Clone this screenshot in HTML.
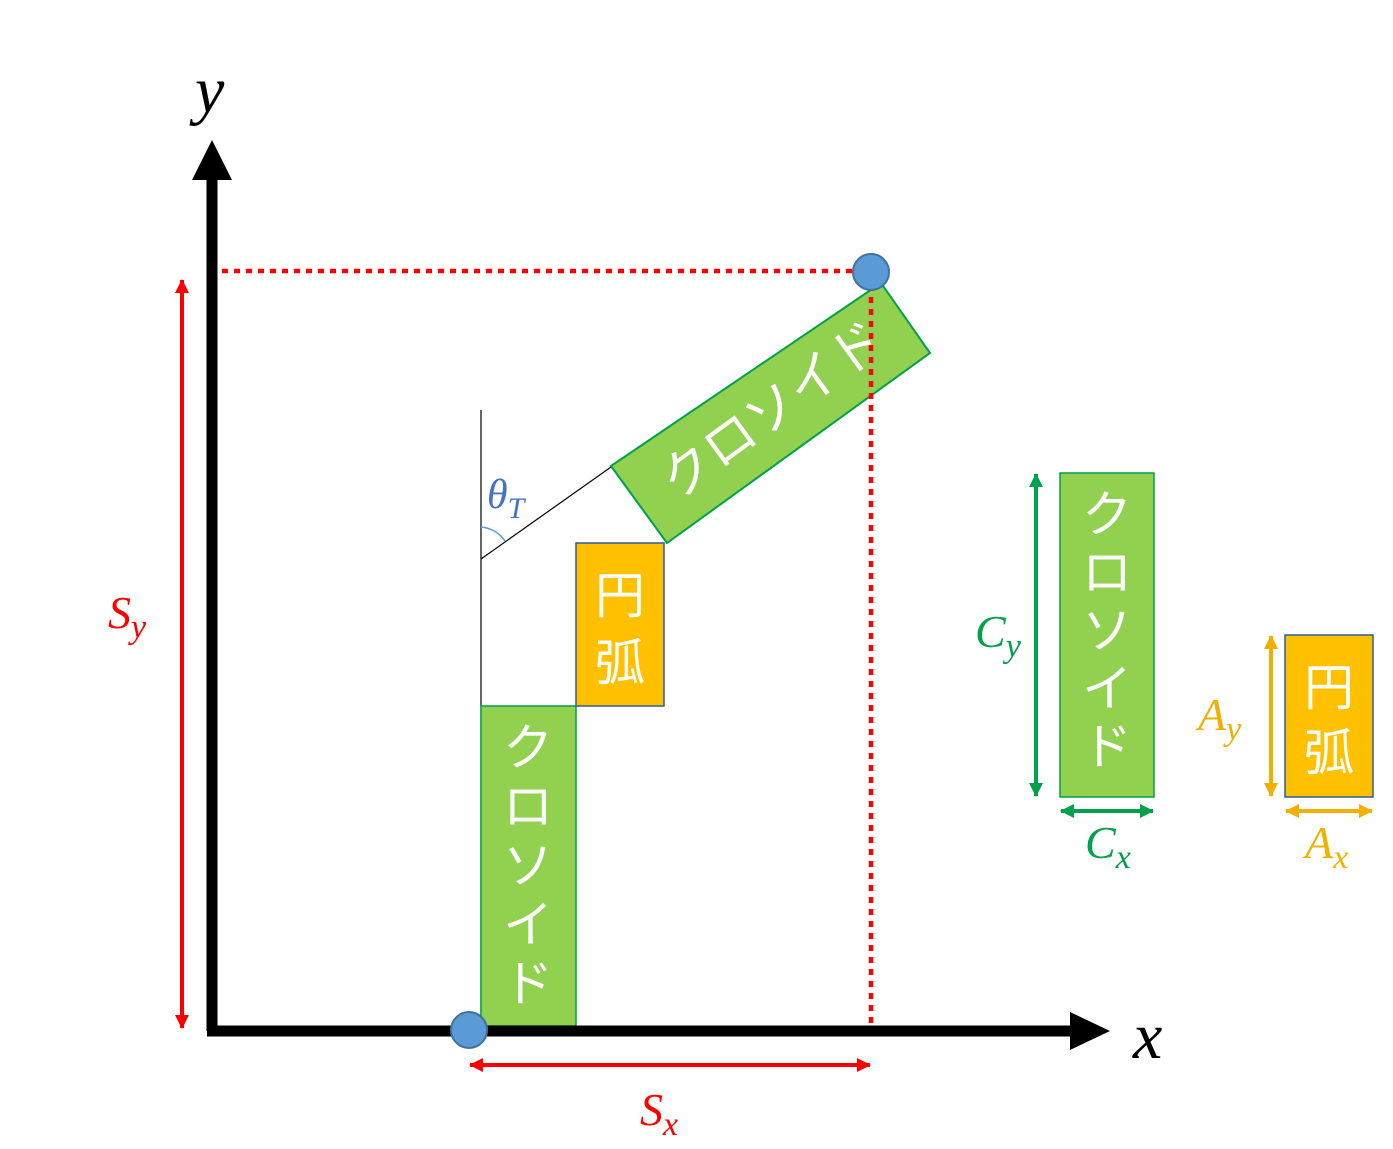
<!DOCTYPE html>
<html><head><meta charset="utf-8"><style>body{margin:0;background:#fff}svg{display:block}</style></head><body>
<svg width="1393" height="1149" viewBox="0 0 1393 1149" xmlns="http://www.w3.org/2000/svg">
<defs>
<marker id="r" markerWidth="14" markerHeight="14" refX="13" refY="7" orient="auto-start-reverse" markerUnits="userSpaceOnUse"><path d="M0,0 L14,7 L0,14 z" fill="#f00"/></marker>
<marker id="g" markerWidth="14" markerHeight="14" refX="13" refY="7" orient="auto-start-reverse" markerUnits="userSpaceOnUse"><path d="M0,0 L14,7 L0,14 z" fill="#00a14b"/></marker>
<marker id="o" markerWidth="14" markerHeight="14" refX="13" refY="7" orient="auto-start-reverse" markerUnits="userSpaceOnUse"><path d="M0,0 L14,7 L0,14 z" fill="#f0b000"/></marker>
</defs>
<g font-family="Liberation Serif, serif" font-style="italic">
<line x1="481" y1="410" x2="481" y2="1025" stroke="#000" stroke-width="1.2"/>
<line x1="481" y1="559" x2="611" y2="467" stroke="#000" stroke-width="1.2"/>
<path d="M481,527 A32,32 0 0 1 505,541" fill="none" stroke="#5b9bd5" stroke-width="1.5"/>
<text x="487" y="508" font-size="42" fill="#4472c4">θ<tspan font-size="30" dy="10">T</tspan></text>
<rect x="481" y="706" width="95" height="320" fill="#92d050" stroke="#00a14b" stroke-width="1.5"/>
<rect x="576" y="543" width="88" height="163" fill="#ffc000" stroke="#2e5c9a" stroke-width="1.5"/>
<polygon points="611,466 667,543 930,353 881,283" fill="#92d050" stroke="#00a14b" stroke-width="2"/>
<rect x="1060" y="473" width="94" height="324" fill="#92d050" stroke="#00a14b" stroke-width="1.5"/>
<rect x="1285" y="635" width="88" height="162" fill="#ffc000" stroke="#2e5c9a" stroke-width="1.5"/>
<g font-family="Liberation Sans, Noto Sans CJK JP, sans-serif" font-style="normal" fill="#fff" font-size="50" text-anchor="middle">
<text x="620" y="613">円</text><text x="620" y="680">弧</text>
<text x="1329" y="705">円</text><text x="1329" y="770">弧</text>
<text x="528" y="765">ク</text><text x="528" y="824">ロ</text><text x="528" y="883">ソ</text><text x="528" y="942">イ</text><text x="528" y="1001">ド</text>
<text x="1107" y="532">ク</text><text x="1107" y="590">ロ</text><text x="1107" y="648">ソ</text><text x="1107" y="706">イ</text><text x="1107" y="764">ド</text>
<text x="0" y="18" transform="translate(772,410) rotate(-36)" font-size="52">クロソイド</text>
</g>
<line x1="222" y1="271" x2="855" y2="271" stroke="#f00" stroke-width="4.5" stroke-dasharray="6 6"/>
<line x1="871" y1="285" x2="871" y2="1025" stroke="#f00" stroke-width="4.5" stroke-dasharray="6 6"/>
<line x1="212" y1="1031" x2="212" y2="175" stroke="#000" stroke-width="11"/>
<polygon points="192,180 232,180 212,140" fill="#000"/>
<line x1="207" y1="1031" x2="1075" y2="1031" stroke="#000" stroke-width="11"/>
<polygon points="1070,1012 1070,1050 1110,1031" fill="#000"/>
<text x="195" y="112" font-size="66">y</text>
<text x="1133" y="1058" font-size="66">x</text>
<circle cx="469" cy="1030" r="18" fill="#5b9bd5" stroke="#41719c" stroke-width="2"/>
<circle cx="871" cy="272" r="18" fill="#5b9bd5" stroke="#41719c" stroke-width="2"/>
<line x1="182" y1="280" x2="182" y2="1028" stroke="#f00" stroke-width="4" marker-start="url(#r)" marker-end="url(#r)"/>
<line x1="470" y1="1065" x2="870" y2="1065" stroke="#f00" stroke-width="4" marker-start="url(#r)" marker-end="url(#r)"/>
<line x1="1036" y1="474" x2="1036" y2="796" stroke="#00a14b" stroke-width="4" marker-start="url(#g)" marker-end="url(#g)"/>
<line x1="1061" y1="811" x2="1153" y2="811" stroke="#00a14b" stroke-width="4" marker-start="url(#g)" marker-end="url(#g)"/>
<line x1="1271" y1="636" x2="1271" y2="796" stroke="#f0b000" stroke-width="4" marker-start="url(#o)" marker-end="url(#o)"/>
<line x1="1286" y1="811" x2="1372" y2="811" stroke="#f0b000" stroke-width="4" marker-start="url(#o)" marker-end="url(#o)"/>
<text x="108" y="628" font-size="46" fill="#f00">S<tspan font-size="34" dy="10">y</tspan></text>
<text x="640" y="1125" font-size="46" fill="#f00">S<tspan font-size="34" dy="10">x</tspan></text>
<text x="975" y="647" font-size="46" fill="#00a14b">C<tspan font-size="34" dy="10">y</tspan></text>
<text x="1085" y="858" font-size="46" fill="#00a14b">C<tspan font-size="34" dy="10">x</tspan></text>
<text x="1198" y="730" font-size="46" fill="#f0b000">A<tspan font-size="34" dy="10">y</tspan></text>
<text x="1305" y="858" font-size="46" fill="#f0b000">A<tspan font-size="34" dy="10">x</tspan></text>
</g>
</svg>
</body></html>
